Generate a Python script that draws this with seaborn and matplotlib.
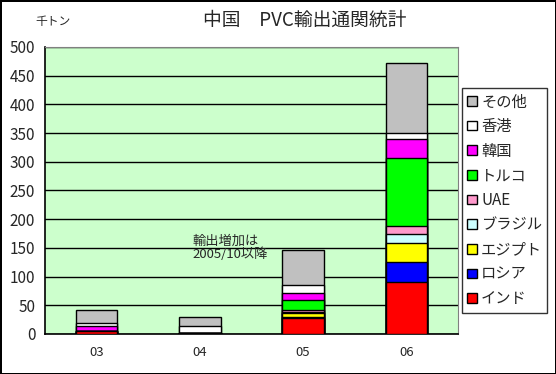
import pandas as pd
import matplotlib.pyplot as plt
import seaborn as sns
import numpy as np
from matplotlib.patches import Patch

# data (千トン)
years = ['03', '04', '05', '06']
india = [5, 1, 28, 90]
russia = [0, 1, 1, 36]
egypt = [0, 0, 8, 32]
brazil = [0, 0, 1, 16]
uae = [0, 0, 4, 14]
turkey = [0, 0, 17, 119]
korea = [9, 0, 13, 32]
hongkong = [6, 12, 13, 12]
others = [21, 16, 61, 121]

series = ['インド', 'ロシア', 'エジプト', 'ブラジル', 'UAE', 'トルコ', '韓国', '香港', 'その他']
values = [india, russia, egypt, brazil, uae, turkey, korea, hongkong, others]
colors = ['#FF0000', '#0000FF', '#FFFF00', '#CCFFFF', '#FF99CC',
          '#00FF00', '#FF00FF', '#FFFFFF', '#C0C0C0']

sns.set_style('white')
plt.rcParams['font.family'] = ['Noto Sans CJK JP', 'DejaVu Sans']

fig = plt.figure(figsize=(5.56, 3.74), dpi=100)
fig.patch.set_edgecolor('black')
fig.patch.set_linewidth(2)
ax = fig.add_axes([45/556, 40/374, 413/556, 287/374])
ax.set_facecolor('#CCFFCC')

df = pd.DataFrame(dict(zip(series, values)), index=years)
cum = df.cumsum(axis=1)

# draw from the tallest cumulative layer down so lower ones cover
for name, col in zip(series[::-1], colors[::-1]):
    d = pd.DataFrame({'year': years, 'v': cum[name].values})
    sns.barplot(data=d, x='year', y='v', color=col, edgecolor='black',
                linewidth=1, width=0.4, saturation=1, ax=ax, zorder=3)

ax.set_ylim(0, 500)
ax.set_xlim(-0.5, 3.5)
ax.set_yticks(range(0, 501, 50))
ax.yaxis.grid(True, color='black', linewidth=1, zorder=0)
ax.set_axisbelow(True)
ax.set_xlabel('')
ax.set_ylabel('')
ax.set_xticks([0, 1, 2, 3])
ax.set_xticklabels(years, fontsize=9.5)
ax.set_xticks([0.5, 1.5, 2.5], minor=True)
ax.tick_params(axis='x', which='major', length=0, pad=9)
ax.tick_params(axis='x', which='minor', length=4, direction='out', width=1)
ax.tick_params(axis='y', length=4, direction='out', width=1, labelsize=11, pad=3)
for s in ['top', 'right']:
    ax.spines[s].set_color('#808080')
for s in ['left', 'bottom']:
    ax.spines[s].set_color('black')
    ax.spines[s].set_linewidth(1.2)

fig.text(305/556, 1 - 20/374, '中国　PVC輸出通関統計', fontsize=13.5,
         ha='center', va='center')
fig.text(35/556, 1 - 22/374, '千トン', fontsize=8.5, ha='left', va='center')

ax.text(0.93, 150, '輸出増加は\n2005/10以降', fontsize=9.5, ha='left',
        va='center', linespacing=1.0, zorder=5)

handles = [Patch(facecolor=c, edgecolor='black', label=n)
           for n, c in zip(series[::-1], colors[::-1])]
leg = fig.legend(handles=handles, loc='upper left',
                 bbox_to_anchor=(462/556, 1 - 88/374), frameon=True,
                 fontsize=11, handlelength=0.6, handleheight=0.6,
                 handletextpad=0.3, labelspacing=0.5, borderpad=0.35,
                 borderaxespad=0, fancybox=False)
leg.get_frame().set_edgecolor('black')
leg.get_frame().set_linewidth(1)

fig.savefig('out.png', dpi=100, edgecolor=fig.get_edgecolor())
